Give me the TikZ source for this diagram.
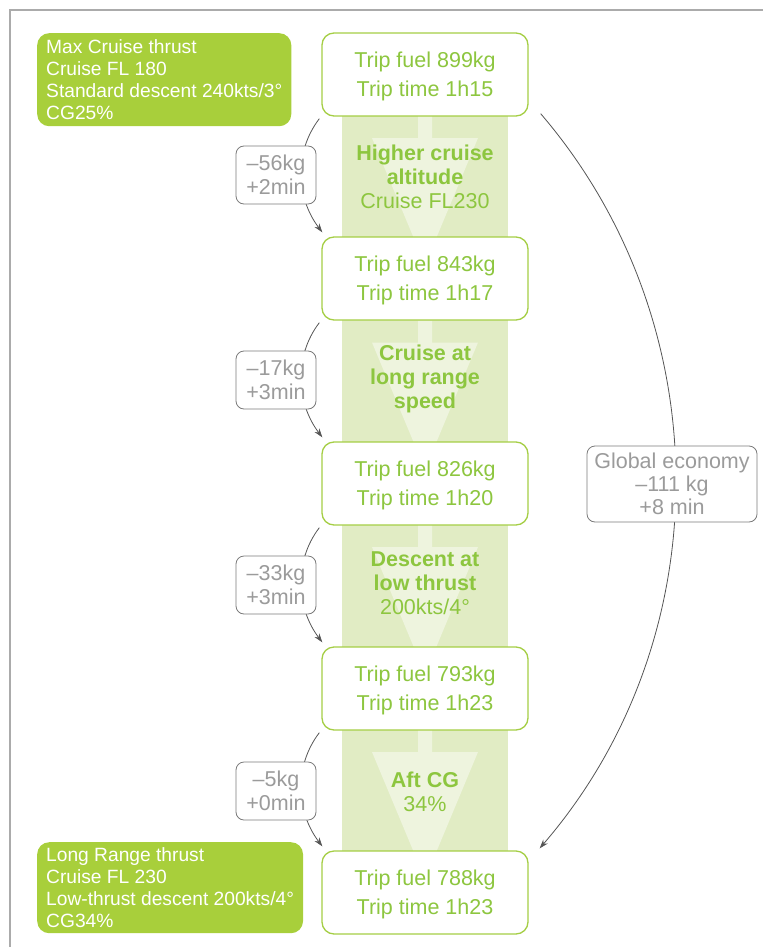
\documentclass[tikz,border=0pt]{standalone}
\usepackage{fontspec}
\setmainfont{Liberation Sans}
\usepackage{tikz}
\usetikzlibrary{calc, arrows.meta}

\definecolor{notegreen}{HTML}{A8CF3B}
\definecolor{tripgreen}{HTML}{8DC63F}
\definecolor{tripline}{HTML}{A5CE45}
\definecolor{bandfill}{HTML}{E1ECC4}
\definecolor{arrowfill}{HTML}{EEF4DE}
\definecolor{deltagray}{HTML}{9B9B9B}
\definecolor{deltaline}{HTML}{7A7A7A}
\definecolor{curvegray}{HTML}{555555}
\definecolor{framegray}{HTML}{ABABAB}

\begin{document}
\begin{tikzpicture}[
        x=1pt, y=-1pt,
        % Style for the trip result boxes
        tripbox/.style={
            draw=tripline,
            line width=1.3pt,
            rounded corners=12pt,
            fill=white,
            minimum width=206pt,
            minimum height=83pt,
            text depth=0pt,
            align=center,
            text=tripgreen,
            font=\fontsize{21.5}{29}\selectfont
        },
        % Style for the green setting notes
        notebox/.style={
            fill=notegreen,
            rounded corners=12pt,
            text=white,
            align=left,
            inner xsep=9pt,
            anchor=north west,
            font=\fontsize{19.2}{22}\selectfont
        },
        % Style for the gain boxes
        deltabox/.style={
            draw=deltaline,
            line width=0.8pt,
            rounded corners=8pt,
            fill=white,
            minimum width=80pt,
            minimum height=58pt,
            inner sep=0pt,
            align=center,
            text=deltagray,
            font=\fontsize{21.5}{24}\selectfont
        },
        % Style for the step labels on the band
        bandtext/.style={
            align=center,
            text=tripgreen,
            font=\fontsize{21.5}{24}\selectfont
        },
        % Style for the curved connectors
        curvearrow/.style={
            draw=curvegray,
            line width=0.8pt,
            -{Stealth[length=9pt, width=6pt]}
        }
    ]

    \useasboundingbox (0,0) rectangle (763,947);

    % Frame lines
    \draw[framegray, line width=1.5pt] (10,947) -- (10,10) -- (763,10);

    % ==========================================
    % BAND AND DOWNWARD ARROWS
    % ==========================================
    \fill[bandfill] (342,116) rectangle (508,851);
    \foreach \y in {116,320.5,525,730}{
        \fill[arrowfill] (418,\y) -- (418,\y+22) -- (372,\y+22) -- (425,\y+149)
            -- (478,\y+22) -- (432,\y+22) -- (432,\y) -- cycle;
    }

    % ==========================================
    % TRIP BOXES
    % ==========================================
    \node[tripbox] (t1) at (425,74.5) {Trip fuel 899kg\\Trip time 1h15};
    \node[tripbox] (t2) at (425,278.5) {Trip fuel 843kg\\Trip time 1h17};
    \node[tripbox] (t3) at (425,483.5) {Trip fuel 826kg\\Trip time 1h20};
    \node[tripbox] (t4) at (425,688.5) {Trip fuel 793kg\\Trip time 1h23};
    \node[tripbox] (t5) at (425,892.5) {Trip fuel 788kg\\Trip time 1h23};

    % Step labels
    \node[bandtext] (l1) at (425,177) {\textbf{Higher cruise}\\\textbf{altitude}\\Cruise FL230};
    \node[bandtext] (l2) at (425,379) {\textbf{Cruise at}\\\textbf{long range}\\\textbf{speed}};
    \node[bandtext] (l3) at (425,583) {\textbf{Descent at}\\\textbf{low thrust}\\200kts/4°};
    \node[bandtext] (l4) at (425,792) {\textbf{Aft CG}\\34\%};

    % ==========================================
    % CURVED CONNECTORS
    % ==========================================
    \draw[curvearrow] ($(t1.south west)+(-2,2)$) .. controls +(-26,34) and +(-26,-34) .. ($(t2.north west)+(1,-4)$);
    \draw[curvearrow] ($(t2.south west)+(-2,2)$) .. controls +(-26,34) and +(-26,-34) .. ($(t3.north west)+(1,-4)$);
    \draw[curvearrow] ($(t3.south west)+(-2,2)$) .. controls +(-26,34) and +(-26,-34) .. ($(t4.north west)+(1,-4)$);
    \draw[curvearrow] ($(t4.south west)+(-2,2)$) .. controls +(-26,34) and +(-26,-34) .. ($(t5.north west)+(1,-4)$);
    \draw[curvearrow] ($(t1.south east)+(12,-3)$) .. controls +(180,210) and +(181,-210) .. ($(t5.north east)+(11,-2)$);

    % Gain boxes
    \node[deltabox] (d1) at (276,175) {–56kg\\+2min};
    \node[deltabox] (d2) at (276,380) {–17kg\\+3min};
    \node[deltabox] (d3) at (276,585) {–33kg\\+3min};
    \node[deltabox] (d4) at (276,791) {–5kg\\+0min};
    \node[deltabox, minimum width=170pt, minimum height=76pt,
          font=\fontsize{21.5}{23}\selectfont] (econ) at (672,484) {Global economy\\–111 kg\\+8 min};

    % ==========================================
    % SETTING NOTES
    % ==========================================
    \node[notebox, minimum height=93pt] (n1) at (37,33)
        {Max Cruise thrust\\Cruise FL 180\\Standard descent 240kts/3°\\CG25\%};
    \node[notebox, minimum height=91pt] (n2) at (37,842)
        {Long Range thrust\\Cruise FL 230\\Low-thrust descent 200kts/4°\\CG34\%};

\end{tikzpicture}
\end{document}
